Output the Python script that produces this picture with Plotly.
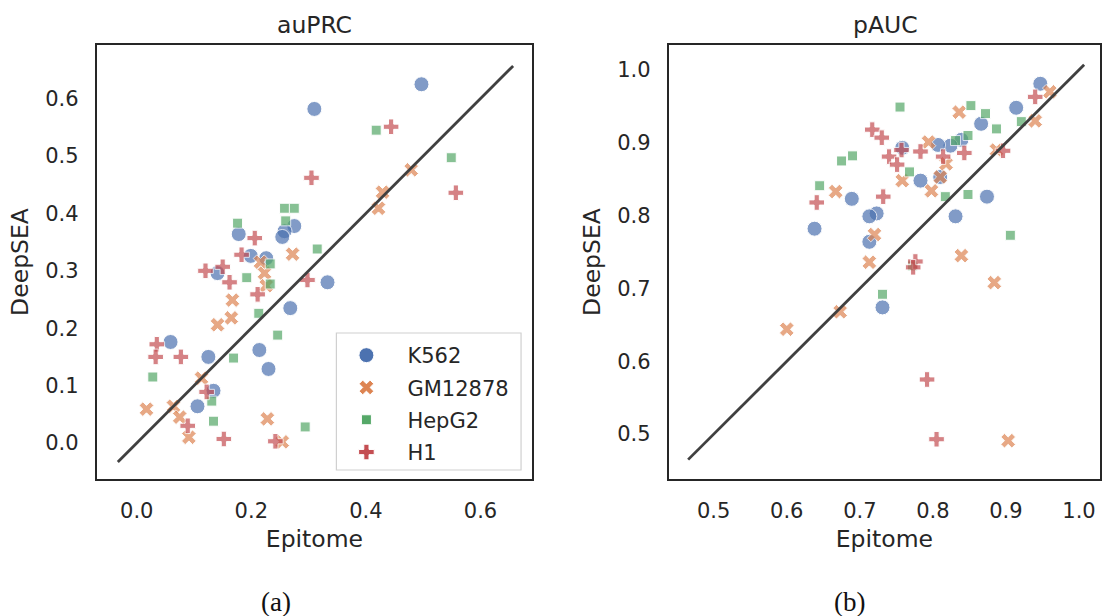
import plotly.graph_objects as go

# ---------------- data ----------------
series_names = ["K562", "GM12878", "HepG2", "H1"]

# auPRC panel (Epitome x, DeepSEA y)
auprc_k562_x = [0.497, 0.310, 0.275, 0.258, 0.254, 0.178, 0.199, 0.226, 0.141, 0.333, 0.268, 0.059, 0.125, 0.214, 0.230, 0.134, 0.106]
auprc_k562_y = [0.625, 0.582, 0.378, 0.369, 0.359, 0.364, 0.326, 0.322, 0.296, 0.280, 0.235, 0.176, 0.150, 0.162, 0.129, 0.091, 0.064]
auprc_gm_x = [0.479, 0.429, 0.422, 0.272, 0.216, 0.223, 0.226, 0.167, 0.165, 0.141, 0.113, 0.017, 0.064, 0.075, 0.091, 0.228, 0.254]
auprc_gm_y = [0.476, 0.437, 0.409, 0.329, 0.315, 0.296, 0.274, 0.249, 0.218, 0.206, 0.113, 0.059, 0.064, 0.045, 0.010, 0.042, 0.002]
auprc_hepg2_x = [0.549, 0.418, 0.258, 0.275, 0.260, 0.176, 0.315, 0.233, 0.192, 0.233, 0.213, 0.246, 0.169, 0.028, 0.131, 0.134, 0.294]
auprc_hepg2_y = [0.497, 0.545, 0.409, 0.409, 0.387, 0.383, 0.338, 0.312, 0.288, 0.277, 0.226, 0.188, 0.148, 0.115, 0.073, 0.038, 0.028]
auprc_h1_x = [0.444, 0.305, 0.557, 0.206, 0.183, 0.150, 0.120, 0.162, 0.211, 0.298, 0.035, 0.033, 0.077, 0.122, 0.089, 0.152, 0.242]
auprc_h1_y = [0.551, 0.462, 0.436, 0.357, 0.328, 0.307, 0.300, 0.280, 0.259, 0.284, 0.172, 0.150, 0.150, 0.089, 0.030, 0.007, 0.003]

# pAUC panel
pauc_k562_x = [0.947, 0.914, 0.866, 0.839, 0.824, 0.807, 0.758, 0.783, 0.810, 0.874, 0.831, 0.689, 0.723, 0.713, 0.638, 0.713, 0.731]
pauc_k562_y = [0.981, 0.948, 0.926, 0.904, 0.896, 0.897, 0.893, 0.848, 0.853, 0.826, 0.799, 0.823, 0.803, 0.799, 0.782, 0.764, 0.674]
pauc_gm_x = [0.960, 0.940, 0.836, 0.794, 0.818, 0.887, 0.758, 0.810, 0.798, 0.839, 0.884, 0.903, 0.667, 0.720, 0.713, 0.673, 0.600]
pauc_gm_y = [0.970, 0.930, 0.942, 0.901, 0.871, 0.890, 0.848, 0.853, 0.834, 0.745, 0.708, 0.491, 0.833, 0.774, 0.736, 0.668, 0.644]
pauc_hepg2_x = [0.921, 0.755, 0.852, 0.872, 0.887, 0.848, 0.831, 0.768, 0.817, 0.848, 0.906, 0.690, 0.675, 0.645, 0.731, 0.772]
pauc_hepg2_y = [0.929, 0.949, 0.951, 0.940, 0.919, 0.910, 0.903, 0.860, 0.826, 0.829, 0.773, 0.882, 0.875, 0.841, 0.692, 0.731]
pauc_h1_x = [0.717, 0.730, 0.740, 0.641, 0.732, 0.940, 0.843, 0.814, 0.783, 0.757, 0.751, 0.896, 0.776, 0.773, 0.792, 0.805]
pauc_h1_y = [0.918, 0.907, 0.881, 0.818, 0.826, 0.963, 0.886, 0.881, 0.888, 0.890, 0.870, 0.889, 0.737, 0.729, 0.575, 0.493]

diag_auprc = [-0.033, 0.657]
diag_pauc = [0.465, 1.007]

auprc_xticks = [0.0, 0.2, 0.4, 0.6]
auprc_yticks = [0.0, 0.1, 0.2, 0.3, 0.4, 0.5, 0.6]
pauc_ticks = [0.5, 0.6, 0.7, 0.8, 0.9, 1.0]

# ---------------- style ----------------
colors = ["#4C72B0", "#DD8452", "#55A868", "#C44E52"]
symbols = ["circle", "x", "square", "cross"]
sizes = [15, 13, 10, 13]
TXT = "#262626"
FONT = "DejaVu Sans"

fig = go.Figure()

panels = [
    ("x", "y", [(auprc_k562_x, auprc_k562_y), (auprc_gm_x, auprc_gm_y),
                (auprc_hepg2_x, auprc_hepg2_y), (auprc_h1_x, auprc_h1_y)], diag_auprc),
    ("x2", "y2", [(pauc_k562_x, pauc_k562_y), (pauc_gm_x, pauc_gm_y),
                  (pauc_hepg2_x, pauc_hepg2_y), (pauc_h1_x, pauc_h1_y)], diag_pauc),
]

for xa, ya, data, diag in panels:
    for i, (xs, ys) in enumerate(data):
        fig.add_trace(go.Scatter(
            x=xs, y=ys, mode="markers", xaxis=xa, yaxis=ya, showlegend=False,
            marker=dict(symbol=symbols[i], size=sizes[i], color=colors[i], opacity=0.7,
                        line=dict(color="white", width=1)),
        ))
    fig.add_trace(go.Scatter(x=diag, y=diag, mode="lines", xaxis=xa, yaxis=ya,
                             showlegend=False, line=dict(color="#404040", width=2.8)))

# legend entries (solid markers)
for i, name in enumerate(series_names):
    fig.add_trace(go.Scatter(
        x=[None], y=[None], mode="markers", name=name, legendgroup=name,
        marker=dict(symbol=symbols[i], size=sizes[i], color=colors[i],
                    line=dict(color="white", width=1)),
    ))

axis_common = dict(showgrid=False, zeroline=False, showline=True, mirror=True,
                   linecolor="#262626", linewidth=2, ticks="",
                   tickfont=dict(family=FONT, size=21, color=TXT),
                   title_font=dict(family=FONT, size=23.5, color=TXT))

L0, L1 = 97 / 1102, 533 / 1102
R0, R1 = 670 / 1102, 1.0
B, T = 1 - 479 / 616, 1 - 45 / 616


def ann(text, xpx, ypx, family, size, color):
    return dict(text=text, x=xpx / 1102, y=1 - ypx / 616, xref="paper", yref="paper",
                xanchor="center", yanchor="middle", showarrow=False,
                font=dict(family=family, size=size, color=color))


fig.update_layout(
    width=1102, height=616, margin=dict(l=0, r=0, t=0, b=0),
    paper_bgcolor="white", plot_bgcolor="white",
    font=dict(family=FONT, color=TXT),
    xaxis=dict(domain=[L0, L1], range=[-0.0697, 0.690], tickvals=auprc_xticks,
               ticktext=[f"{v:.1f}" for v in auprc_xticks], ticklabelstandoff=12,
               title=dict(text="Epitome", standoff=8), **axis_common),
    yaxis=dict(domain=[B, T], range=[-0.0627, 0.6934], tickvals=auprc_yticks,
               ticktext=[f"{v:.1f}" for v in auprc_yticks], ticklabelstandoff=12,
               title=dict(text="DeepSEA", standoff=10), **axis_common),
    xaxis2=dict(domain=[R0, R1], range=[0.4385, 1.0287], tickvals=pauc_ticks,
                ticktext=[f"{v:.1f}" for v in pauc_ticks], ticklabelstandoff=12,
                anchor="y2", title=dict(text="Epitome", standoff=8), **axis_common),
    yaxis2=dict(domain=[B, T], range=[0.4384, 1.0342], tickvals=pauc_ticks,
                ticktext=[f"{v:.1f}" for v in pauc_ticks], ticklabelstandoff=12,
                anchor="x2", title=dict(text="DeepSEA", standoff=10), **axis_common),
    legend=dict(x=326 / 1102, xanchor="left", y=1 - 335 / 616, yanchor="top",
                bgcolor="rgba(0,0,0,0)", borderwidth=0, itemwidth=72,
                tracegroupgap=2, traceorder="grouped",
                font=dict(family=FONT, size=21, color=TXT)),
    shapes=[dict(type="rect", xref="paper", yref="paper",
                 x0=337 / 1102, x1=522 / 1102, y0=1 - 470 / 616, y1=1 - 333 / 616,
                 line=dict(color="#d0d0d0", width=1.2),
                 fillcolor="rgba(255,255,255,0.8)", layer="above")],
    annotations=[
        ann("auPRC", 315, 25, FONT, 23.5, TXT),
        ann("pAUC", 887, 25, FONT, 23.5, TXT),
        ann("(a)", 277, 602, "Liberation Serif", 27, "#111111"),
        ann("(b)", 851, 602, "Liberation Serif", 27, "#111111"),
    ],
)

fig.write_html("out.html")
